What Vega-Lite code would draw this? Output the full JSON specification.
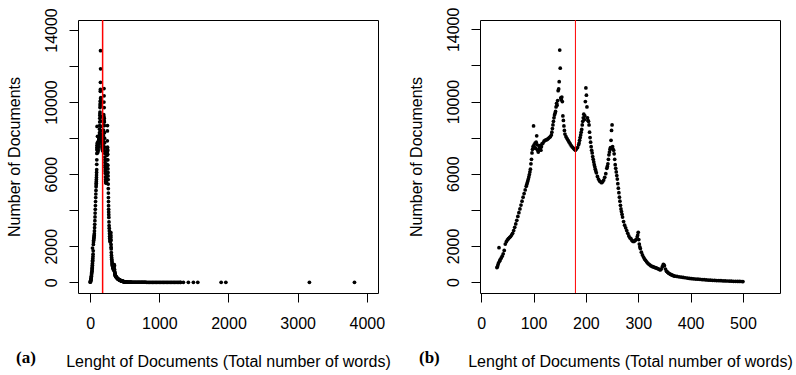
{
  "$schema": "https://vega.github.io/schema/vega-lite/v6.json",
  "background": "white",
  "padding": {"left": 5, "top": 6, "right": 0, "bottom": 0},
  "spacing": 16,
  "datasets": {
    "mean": [{"mean_length": 180}],
    "docs": [
      {"length":1,"docs":5},{"length":3,"docs":25},{"length":5,"docs":50},{"length":7,"docs":80},{"length":9,"docs":120},{"length":11,"docs":160},{"length":13,"docs":210},{"length":15,"docs":270},{"length":17,"docs":330},{"length":19,"docs":400},{"length":21,"docs":470},{"length":23,"docs":540},{"length":25,"docs":610},{"length":27,"docs":680},{"length":29,"docs":750},
      {"length":30,"docs":800},{"length":31,"docs":850},{"length":32,"docs":950},{"length":33,"docs":1050},{"length":34,"docs":1900},{"length":35,"docs":1150},{"length":36,"docs":1220},{"length":38,"docs":1320},{"length":40,"docs":1430},{"length":42,"docs":1560},{"length":44,"docs":1750},{"length":46,"docs":2100},{"length":48,"docs":2230},{"length":50,"docs":2330},{"length":52,"docs":2400},{"length":54,"docs":2460},{"length":56,"docs":2520},{"length":58,"docs":2600},{"length":60,"docs":2700},{"length":62,"docs":2850},{"length":64,"docs":3030},{"length":66,"docs":3220},{"length":68,"docs":3420},{"length":70,"docs":3630},{"length":72,"docs":3840},{"length":74,"docs":4050},{"length":76,"docs":4260},{"length":78,"docs":4480},{"length":80,"docs":4700},{"length":82,"docs":4900},{"length":84,"docs":5100},{"length":86,"docs":5300},{"length":87,"docs":5400},{"length":88,"docs":5500},{"length":89,"docs":5600},{"length":90,"docs":5700},{"length":91,"docs":5820},{"length":92,"docs":5950},{"length":93,"docs":6100},{"length":94,"docs":6250},{"length":95,"docs":6550},{"length":96,"docs":6800},{"length":97,"docs":7150},{"length":98,"docs":7350},{"length":99,"docs":7500},{"length":100,"docs":8650},
      {"length":101,"docs":7600},{"length":102,"docs":7450},{"length":103,"docs":7700},{"length":104,"docs":7400},{"length":105,"docs":7750},{"length":106,"docs":8100},{"length":107,"docs":7600},{"length":108,"docs":7300},{"length":109,"docs":7200},{"length":110,"docs":7350},{"length":111,"docs":7500},{"length":112,"docs":7550},{"length":113,"docs":7400},{"length":114,"docs":7300},{"length":115,"docs":7500},{"length":116,"docs":7650},{"length":118,"docs":7700},{"length":120,"docs":7800},{"length":122,"docs":7850},{"length":124,"docs":7870},{"length":126,"docs":7900},{"length":128,"docs":7950},{"length":130,"docs":8000},{"length":132,"docs":8050},{"length":134,"docs":8150},{"length":135,"docs":8300},{"length":136,"docs":8500},{"length":137,"docs":8700},{"length":138,"docs":8900},{"length":139,"docs":9100},{"length":140,"docs":9250},{"length":141,"docs":9350},{"length":142,"docs":9450},{"length":143,"docs":9700},{"length":144,"docs":9900},{"length":145,"docs":9800},{"length":146,"docs":10050},{"length":147,"docs":10600},{"length":148,"docs":10700},{"length":149,"docs":11100},{"length":150,"docs":12850},
      {"length":151,"docs":11850},{"length":152,"docs":10200},{"length":153,"docs":10100},{"length":154,"docs":10250},{"length":155,"docs":10000},{"length":156,"docs":9200},{"length":157,"docs":8950},{"length":158,"docs":8650},{"length":159,"docs":8400},{"length":160,"docs":8200},{"length":162,"docs":8050},{"length":164,"docs":7950},{"length":166,"docs":7850},{"length":168,"docs":7750},{"length":170,"docs":7650},{"length":172,"docs":7550},{"length":174,"docs":7480},{"length":176,"docs":7420},{"length":178,"docs":7350},{"length":180,"docs":7300},{"length":182,"docs":7380},{"length":184,"docs":7450},{"length":186,"docs":7600},{"length":187,"docs":7700},{"length":188,"docs":7850},{"length":189,"docs":8000},{"length":190,"docs":8150},{"length":191,"docs":8300},{"length":192,"docs":8450},{"length":193,"docs":8700},{"length":194,"docs":8900},{"length":195,"docs":9100},{"length":196,"docs":9300},{"length":197,"docs":9000},{"length":198,"docs":9200},{"length":199,"docs":10000},{"length":200,"docs":10750},
      {"length":201,"docs":10350},{"length":202,"docs":9700},{"length":203,"docs":9100},{"length":204,"docs":8950},{"length":205,"docs":8900},{"length":206,"docs":8700},{"length":207,"docs":8300},{"length":208,"docs":8000},{"length":209,"docs":7750},{"length":210,"docs":7500},{"length":211,"docs":7300},{"length":212,"docs":7150},{"length":213,"docs":6950},{"length":214,"docs":6800},{"length":215,"docs":6650},{"length":216,"docs":6500},{"length":217,"docs":6380},{"length":218,"docs":6250},{"length":219,"docs":6150},{"length":220,"docs":6050},{"length":222,"docs":5850},{"length":224,"docs":5700},{"length":226,"docs":5600},{"length":228,"docs":5550},{"length":230,"docs":5500},{"length":232,"docs":5550},{"length":234,"docs":5650},{"length":236,"docs":5800},{"length":238,"docs":6000},{"length":240,"docs":6300},{"length":241,"docs":6400},{"length":242,"docs":6550},{"length":243,"docs":6800},{"length":244,"docs":7050},{"length":245,"docs":7200},{"length":246,"docs":7350},{"length":247,"docs":7450},{"length":248,"docs":7850},{"length":249,"docs":8400},{"length":250,"docs":8700},
      {"length":251,"docs":7500},{"length":252,"docs":7350},{"length":253,"docs":7300},{"length":254,"docs":7100},{"length":255,"docs":6800},{"length":256,"docs":6500},{"length":257,"docs":6300},{"length":258,"docs":6100},{"length":259,"docs":5900},{"length":260,"docs":5700},{"length":261,"docs":5450},{"length":262,"docs":5200},{"length":263,"docs":4950},{"length":264,"docs":4700},{"length":265,"docs":4480},{"length":266,"docs":4250},{"length":267,"docs":4050},{"length":268,"docs":3900},{"length":269,"docs":3750},{"length":270,"docs":3600},{"length":272,"docs":3350},{"length":274,"docs":3150},{"length":276,"docs":3000},{"length":278,"docs":2850},{"length":280,"docs":2700},{"length":282,"docs":2550},{"length":284,"docs":2450},{"length":286,"docs":2400},{"length":288,"docs":2300},{"length":290,"docs":2250},{"length":292,"docs":2250},{"length":294,"docs":2300},{"length":296,"docs":2350},{"length":298,"docs":2500},{"length":299,"docs":2600},{"length":300,"docs":2750},
      {"length":301,"docs":2350},{"length":302,"docs":2100},{"length":303,"docs":1950},{"length":304,"docs":1850},{"length":306,"docs":1650},{"length":308,"docs":1500},{"length":310,"docs":1380},{"length":312,"docs":1280},{"length":314,"docs":1200},{"length":316,"docs":1120},{"length":318,"docs":1050},{"length":320,"docs":990},{"length":322,"docs":950},{"length":324,"docs":900},{"length":326,"docs":870},{"length":328,"docs":850},{"length":330,"docs":820},{"length":332,"docs":800},{"length":334,"docs":780},{"length":336,"docs":760},{"length":338,"docs":730},{"length":340,"docs":700},{"length":342,"docs":670},{"length":344,"docs":720},{"length":346,"docs":850},{"length":348,"docs":980},{"length":349,"docs":950},{"length":350,"docs":900},
      {"length":352,"docs":720},{"length":354,"docs":600},{"length":356,"docs":540},{"length":358,"docs":490},{"length":360,"docs":450},{"length":362,"docs":420},{"length":364,"docs":390},{"length":366,"docs":360},{"length":368,"docs":340},{"length":370,"docs":320},{"length":374,"docs":305},{"length":378,"docs":290},{"length":382,"docs":270},{"length":386,"docs":250},{"length":390,"docs":235},{"length":394,"docs":215},{"length":398,"docs":200},{"length":402,"docs":185},{"length":406,"docs":175},{"length":410,"docs":165},{"length":414,"docs":155},{"length":418,"docs":145},{"length":422,"docs":135},{"length":426,"docs":125},{"length":430,"docs":115},{"length":434,"docs":108},{"length":438,"docs":100},{"length":442,"docs":95},{"length":446,"docs":88},{"length":450,"docs":82},{"length":454,"docs":76},{"length":458,"docs":70},{"length":462,"docs":65},{"length":466,"docs":60},{"length":470,"docs":55},{"length":474,"docs":50},{"length":478,"docs":45},{"length":482,"docs":40},{"length":486,"docs":37},{"length":490,"docs":34},{"length":494,"docs":30},{"length":498,"docs":27},{"length":500,"docs":25},
      {"length":510,"docs":22},{"length":520,"docs":20},{"length":530,"docs":18},{"length":540,"docs":16},{"length":550,"docs":15},{"length":560,"docs":13},{"length":570,"docs":12},{"length":580,"docs":11},{"length":590,"docs":10},{"length":600,"docs":9},{"length":620,"docs":8},{"length":640,"docs":7},{"length":660,"docs":6},{"length":680,"docs":5},{"length":700,"docs":5},{"length":720,"docs":4},{"length":740,"docs":4},{"length":760,"docs":3},{"length":780,"docs":3},{"length":800,"docs":3},{"length":820,"docs":2},{"length":840,"docs":2},{"length":860,"docs":2},{"length":880,"docs":2},{"length":900,"docs":2},{"length":920,"docs":2},{"length":940,"docs":2},{"length":960,"docs":2},{"length":980,"docs":1},{"length":1000,"docs":1},{"length":1020,"docs":1},{"length":1040,"docs":1},{"length":1060,"docs":1},{"length":1080,"docs":1},{"length":1100,"docs":1},{"length":1120,"docs":1},{"length":1140,"docs":1},{"length":1160,"docs":1},{"length":1180,"docs":1},{"length":1200,"docs":1},{"length":1220,"docs":1},{"length":1240,"docs":1},{"length":1260,"docs":1},{"length":1280,"docs":1},{"length":1300,"docs":1},{"length":1310,"docs":1},
      {"length":1348,"docs":1},{"length":1420,"docs":1},{"length":1493,"docs":1},{"length":1556,"docs":1},{"length":1894,"docs":1},{"length":1962,"docs":1},{"length":3170,"docs":1},{"length":3822,"docs":1}
    ]
  },
  "hconcat": [
    {
      "width": 300,
      "height": 273,
      "title": {"text": "(a)", "dx": 10, "dy": -23},
      "layer": [
        {
          "data": {"name": "docs"},
          "mark": {"type": "circle", "size": 14, "color": "black", "opacity": 1},
          "encoding": {
            "x": {"field": "length", "type": "quantitative", "scale": {"domain": [-176, 4162], "nice": false, "zero": false},
                  "axis": {"values": [0, 1000, 2000, 3000, 4000], "format": "d", "title": "Lenght of Documents (Total number of words)"}},
            "y": {"field": "docs", "type": "quantitative", "scale": {"domain": [-594, 14556], "nice": false, "zero": false},
                  "axis": {"values": [0, 2000, 4000, 6000, 8000, 10000, 12000, 14000], "format": "d", "title": "Number of Documents",
                           "labelExpr": "datum.value == 4000 || datum.value == 8000 || datum.value == 12000 ? '' : datum.label",
                           "labelAngle": -90, "labelAlign": "center", "labelBaseline": "top", "labelPadding": 25.5}}
          }
        },
        {
          "data": {"name": "mean"},
          "mark": {"type": "rule", "color": "#ff0000", "strokeWidth": 1.5},
          "encoding": {"x": {"field": "mean_length", "type": "quantitative"}}
        }
      ]
    },
    {
      "width": 300,
      "height": 273,
      "title": {"text": "(b)", "dx": 11, "dy": -23},
      "layer": [
        {
          "data": {"name": "docs"},
          "transform": [{"filter": {"field": "length", "range": [30, 500]}}],
          "mark": {"type": "circle", "size": 14, "color": "black", "opacity": 1},
          "encoding": {
            "x": {"field": "length", "type": "quantitative", "scale": {"domain": [-2.3, 570.8], "nice": false, "zero": false},
                  "axis": {"values": [0, 100, 200, 300, 400, 500], "format": "d", "title": "Lenght of Documents (Total number of words)"}},
            "y": {"field": "docs", "type": "quantitative", "scale": {"domain": [-610, 14517], "nice": false, "zero": false},
                  "axis": {"values": [0, 2000, 4000, 6000, 8000, 10000, 12000, 14000], "format": "d", "title": "Number of Documents",
                           "labelExpr": "datum.value == 4000 || datum.value == 8000 || datum.value == 12000 ? '' : datum.label",
                           "labelAngle": -90, "labelAlign": "center", "labelBaseline": "top", "labelPadding": 25.5}}
          }
        },
        {
          "data": {"name": "mean"},
          "mark": {"type": "rule", "color": "#ff0000", "strokeWidth": 1},
          "encoding": {"x": {"field": "mean_length", "type": "quantitative"}}
        }
      ]
    }
  ],
  "config": {
    "view": {"stroke": "black", "strokeWidth": 1},
    "axis": {
      "domain": false, "grid": false,
      "ticks": true, "tickSize": 9, "tickColor": "black", "tickWidth": 1,
      "labelFont": "Liberation Sans", "labelFontSize": 16, "labelColor": "black",
      "labelOverlap": false, "labelFlush": false,
      "titleFont": "Liberation Sans", "titleFontSize": 16, "titleFontWeight": "normal", "titleColor": "black"
    },
    "axisX": {"labelBaseline": "alphabetic", "labelPadding": 26, "titleBaseline": "alphabetic", "titleY": 73},
    "axisY": {"titleAngle": -90, "titleAlign": "center", "titleBaseline": "alphabetic", "titleX": -59, "titleY": 136.5},
    "title": {"orient": "bottom", "anchor": "start", "frame": "bounds", "font": "Liberation Serif", "fontWeight": "bold",
              "fontSize": 17, "color": "black", "baseline": "alphabetic", "offset": 0}
  }
}
